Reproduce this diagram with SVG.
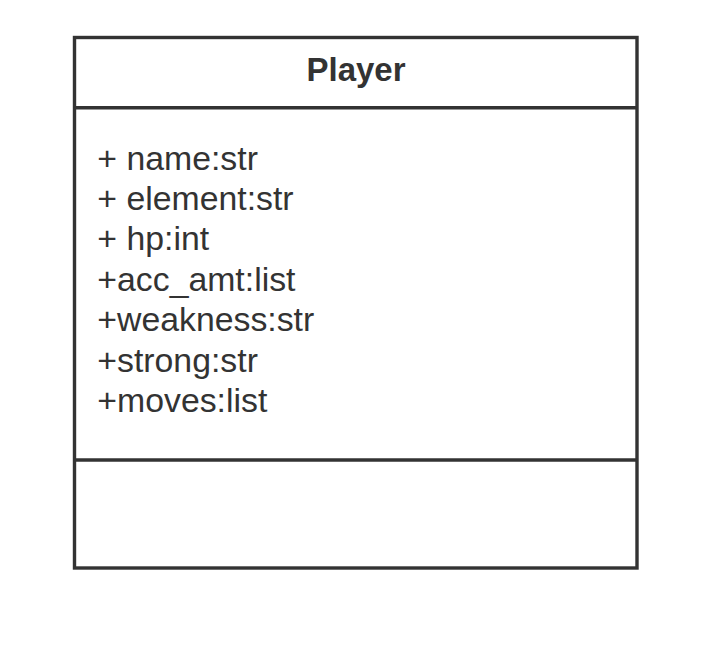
<svg xmlns="http://www.w3.org/2000/svg" width="728" height="654" viewBox="0 0 728 654">
<style>
.box{fill:#fff;stroke:#333;stroke-width:3.4}
.ln{stroke:#333;stroke-width:3.6}
.t{font-family:"Liberation Sans",Arial,sans-serif;font-size:33.8px;fill:#333}
.h{font-family:"Liberation Sans",Arial,sans-serif;font-size:33px;font-weight:bold;fill:#333}
</style>
<rect width="728" height="654" fill="#fff"/>
<g id="player">
<rect class="box" x="74.5" y="37.5" width="562.5" height="530.5"/>
<line class="ln" x1="74.5" y1="107.7" x2="637" y2="107.7"/>
<line class="ln" x1="74.5" y1="460" x2="637" y2="460"/>
<text class="h" x="356" y="81" text-anchor="middle">Player</text>
<text class="t" x="97.3" y="169.5">+ name:str</text>
<text class="t" x="97.3" y="209.9">+ element:str</text>
<text class="t" x="97.3" y="250.3">+ hp:int</text>
<text class="t" x="97.3" y="290.7">+acc_amt:list</text>
<text class="t" x="97.3" y="331.1">+weakness:str</text>
<text class="t" x="97.3" y="371.5">+strong:str</text>
<text class="t" x="97.3" y="411.9">+moves:list</text>
</g>
<g id="connectors"></g>
</svg>
